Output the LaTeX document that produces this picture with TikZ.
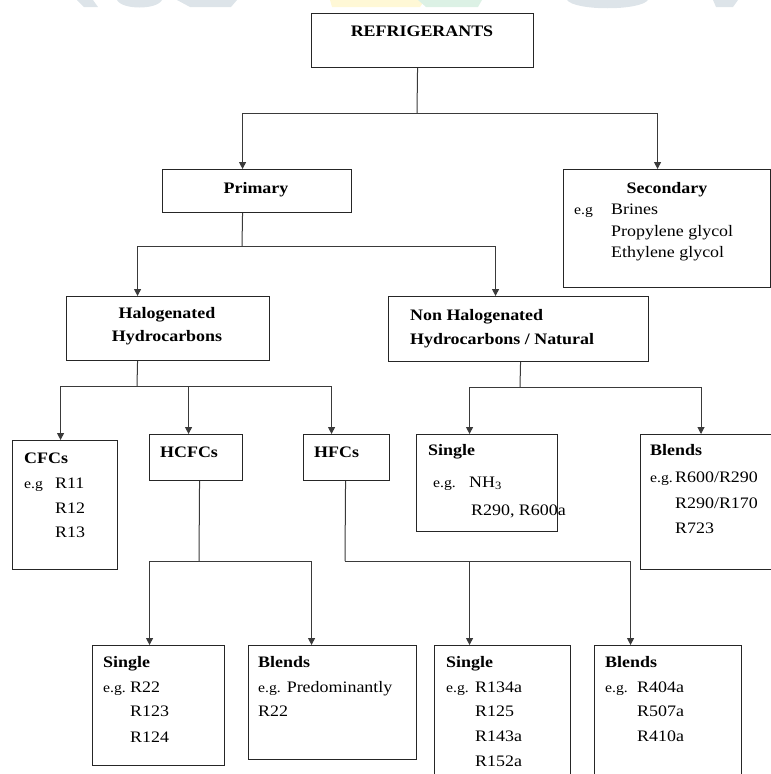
\documentclass[tikz,border=0pt]{standalone}
\usepackage{fontspec}
\setmainfont{Liberation Serif}[FakeStretch=1.12]
\usepackage{tikz}
\usetikzlibrary{arrows.meta}
\definecolor{rfgDark}{HTML}{262626}
\definecolor{rfgLine}{HTML}{3A3A3A}
\definecolor{rfgWmGray}{HTML}{DDE4E9}
\definecolor{rfgWmYellow}{HTML}{FFF8D6}
\definecolor{rfgWmGreen}{HTML}{DCF1E5}
\newcommand{\eg}[1]{{\fontsize{14}{17}\selectfont #1}}

\begin{document}
\begin{tikzpicture}[x=1pt, y=-1pt, font=\fontsize{16}{19}\selectfont,
  caja/.style={draw=rfgDark, line width=1.1pt, anchor=north west, inner sep=0pt},
  enlace/.style={draw=rfgLine, line width=1pt},
  flecha/.style={enlace, -{Triangle[length=7pt, width=7pt]}},
  texto/.style={anchor=base west, inner sep=0pt, text=black},
  titulo/.style={texto, anchor=base, font=\fontsize{16}{19}\selectfont\bfseries}]
  \useasboundingbox (0,0) rectangle (771,774);
  % Marca de agua (cortada arriba)
  \fill[rfgWmGray] (77,0) -- (93,0) -- (98,7) -- (84,7) -- cycle;
  \fill[rfgWmGray] (117,0) .. controls (122,10) and (157,10) .. (162,0) -- cycle;
  \fill[rfgWmGray] (177,0) -- (237,0) -- (231,7) -- (190,7) -- cycle;
  \fill[rfgWmYellow] (330,0) -- (425,0) -- (420,7) -- (332,7) -- cycle;
  \fill[rfgWmGreen] (418,0) -- (482,0) -- (478,7) -- (426,7) -- cycle;
  \fill[rfgWmGray] (567,0) .. controls (575,11) and (640,11) .. (648,0) -- cycle;
  \fill[rfgWmGray] (713,0) -- (738,0) -- (733,7) -- (716,7) -- cycle;
  % Cajas: nombre, esquina sup. izq., esquina inf. der.
  \foreach \nombre/\xa/\ya/\xb/\yb in {%
    ref/311/13/533/67,
    prim/162/169/351/212,
    sec/563/169/770/287,
    hal/66/296/269/360,
    nh/388/296/648/361,
    cfc/12/440/117/569,
    hcfc/149/434/242/480,
    hfc/303/434/389/480,
    nhs/416/434/557/531,
    nhb/640/434/790/569,
    sa/92/645/224/765,
    ba/248/645/416/759,
    sb/434/645/570/790,
    bb/594/645/741/790%
  } {
    \node[caja, minimum width={(\xb-\xa)*1pt}, minimum height={(\yb-\ya)*1pt}] (\nombre) at (\xa,\ya) {};
  }
  % Titulos centrados
  \node[titulo] (refT) at (422,36) {REFRIGERANTS};
  \node[titulo] (primT) at (256,193) {Primary};
  \node[titulo] (secT) at (667,193) {Secondary};
  \node[titulo] (halT) at (167,318) {Halogenated};
  \node[titulo] (halT2) at (167,341) {Hydrocarbons};
  % Textos de las cajas (x, linea base)
  \foreach \id/\x/\y/\t in {%
    cfcT/24/463/{\bfseries CFCs},
    cfcEg/24/488/{\eg{e.g}},
    cfcA/55/488/R11,
    cfcB/55/513/R12,
    cfcC/55/537/R13,
    hcfcT/160/457/{\bfseries HCFCs},
    hfcT/314/457/{\bfseries HFCs},
    nhT/410/320/{\bfseries Non Halogenated},
    nhT2/410/344/{\bfseries Hydrocarbons / Natural},
    secEg/574/214/{\eg{e.g}},
    secA/611/214/Brines,
    secB/611/236/{Propylene glycol},
    secC/611/257/{Ethylene glycol},
    nhsT/428/455/{\bfseries Single},
    nhsEg/433/487/{\eg{e.g.}},
    nhsA/469/487/{NH\textsubscript{3}},
    nhsB/471/515/{R290, R600a},
    nhbT/650/455/{\bfseries Blends},
    nhbEg/650/482/{\eg{e.g.}},
    nhbA/675/482/{R600/R290},
    nhbB/675/508/{R290/R170},
    nhbC/675/533/R723,
    saT/103/667/{\bfseries Single},
    saEg/103/692/{\eg{e.g.}},
    saA/130/692/R22,
    saB/130/716/R123,
    saC/130/742/R124,
    baT/258/667/{\bfseries Blends},
    baA/258/692/{\eg{e.g.} Predominantly},
    baB/258/716/R22,
    sbT/446/667/{\bfseries Single},
    sbEg/446/692/{\eg{e.g.}},
    sbA/475/692/R134a,
    sbB/475/716/R125,
    sbC/475/741/R143a,
    sbD/475/766/R152a,
    bbT/605/667/{\bfseries Blends},
    bbEg/605/692/{\eg{e.g.}},
    bbA/637/692/R404a,
    bbB/637/716/R507a,
    bbC/637/741/R410a%
  } {
    \node[texto] (\id) at (\x,\y) {\t};
  }
  % Puntos de reparto
  \coordinate (j1) at (417,113);
  \coordinate (j2) at (242,246);
  \coordinate (j3) at (137,386);
  \coordinate (j4) at (520,387);
  \coordinate (j5) at (199,561);
  \coordinate (j6) at (345,561);
  % Conectores
  \draw[enlace] ([xshift=-5pt]ref.south) -- (j1);
  \draw[flecha] (j1) -| ([xshift=-14.5pt]prim.north);
  \draw[flecha] (j1) -| ([xshift=-9.5pt]sec.north);
  \draw[enlace] ([xshift=-14.5pt]prim.south) -- (j2);
  \draw[flecha] (j2) -| ([xshift=-30.5pt]hal.north);
  \draw[flecha] (j2) -| ([xshift=-23pt]nh.north);
  \draw[enlace] ([xshift=-30.5pt]hal.south) -- (j3);
  \draw[flecha] (j3) -| ([xshift=-4.5pt]cfc.north);
  \draw[flecha] (j3) -| ([xshift=-7.5pt]hcfc.north);
  \draw[flecha] (j3) -| ([xshift=-15pt]hfc.north);
  \draw[enlace] ([xshift=2pt]nh.south) -- (j4);
  \draw[flecha] (j4) -| ([xshift=-17.5pt]nhs.north);
  \draw[flecha] (j4) -| ([xshift=61pt]nhb.north west);
  \draw[enlace] ([xshift=3.5pt]hcfc.south) -- (j5);
  \draw[flecha] (j5) -| ([xshift=-9pt]sa.north);
  \draw[flecha] (j5) -| ([xshift=-21pt]ba.north);
  \draw[enlace] ([xshift=-1pt]hfc.south) -- (j6);
  \draw[flecha] (j6) -| ([xshift=-33pt]sb.north);
  \draw[flecha] (j6) -| ([xshift=-37.5pt]bb.north);
\end{tikzpicture}
\end{document}
